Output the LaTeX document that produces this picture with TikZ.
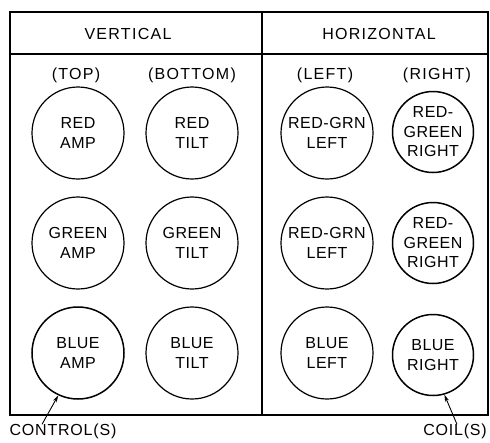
\documentclass[tikz,border=0pt]{standalone}
\usepackage{fontspec}
\setmainfont{Liberation Sans}
\usetikzlibrary{arrows.meta}
\tikzset{
  knob/.style={circle, draw, line width=1.2pt, minimum size=92pt, inner sep=0pt, align=center,
    font=\fontsize{16}{20.5}\selectfont\addfontfeature{LetterSpace=3}},
  knobs/.style={knob, minimum size=81pt, line width=1.5pt, font=\fontsize{16}{19.5}\selectfont\addfontfeature{LetterSpace=3}},
  lbl/.style={font=\fontsize{16}{18}\selectfont\addfontfeature{LetterSpace=8}, inner sep=0pt},
  frame/.style={line width=1.5pt},
  arr/.style={-{Stealth[length=7pt,width=4pt]}, line width=0.9pt}
}
\begin{document}
\begin{tikzpicture}[x=1pt,y=-1pt]
\useasboundingbox (0,0) rectangle (490,442);
% frame
\draw[frame] (10,12) rectangle (488,415);
\draw[frame] (10,54) -- (488,54);
\draw[frame] (262,12) -- (262,415);
% headers
\node[lbl] (hv) at (128,34) {VERTICAL};
\node[lbl] (hh) at (379,34) {HORIZONTAL};
\node[lbl] (ctop) at (76,75) {(TOP)};
\node[lbl] (cbot) at (192,75) {(BOTTOM)};
\node[lbl] (cleft) at (325,75) {(LEFT)};
\node[lbl] (cright) at (437,75) {(RIGHT)};
% knobs
\node[knob] (ramp) at (78,133) {RED\\AMP};
\node[knob] (rtilt) at (192,133) {RED\\TILT};
\node[knob] (rgl1) at (327,133) {RED-GRN\\LEFT};
\node[knobs] (rgr1) at (433,132) {RED-\\GREEN\\RIGHT};
\node[knob] (gamp) at (78,243) {GREEN\\AMP};
\node[knob] (gtilt) at (192,243) {GREEN\\TILT};
\node[knob] (rgl2) at (327,243) {RED-GRN\\LEFT};
\node[knobs] (rgr2) at (433,243) {RED-\\GREEN\\RIGHT};
\node[knob, line width=1.5pt] (bamp) at (78,353) {BLUE\\AMP};
\node[knob] (btilt) at (192,353) {BLUE\\TILT};
\node[knob] (bleft) at (327,353) {BLUE\\LEFT};
\node[knobs] (bright) at (433,355) {BLUE\\RIGHT};
% callouts
\node[lbl, font=\fontsize{16}{18}\selectfont\addfontfeature{LetterSpace=5}] (ctl) at (63,431) {CONTROL(S)};
\node[lbl, font=\fontsize{16}{18}\selectfont\addfontfeature{LetterSpace=5}] (coil) at (455,431) {COIL(S)};
\draw[arr] ([xshift=-21pt,yshift=-1pt]ctl.north) -- (bamp.245);
\draw[arr] ([xshift=2pt,yshift=-1pt]coil.north) -- (bright.286);
\end{tikzpicture}
\end{document}
